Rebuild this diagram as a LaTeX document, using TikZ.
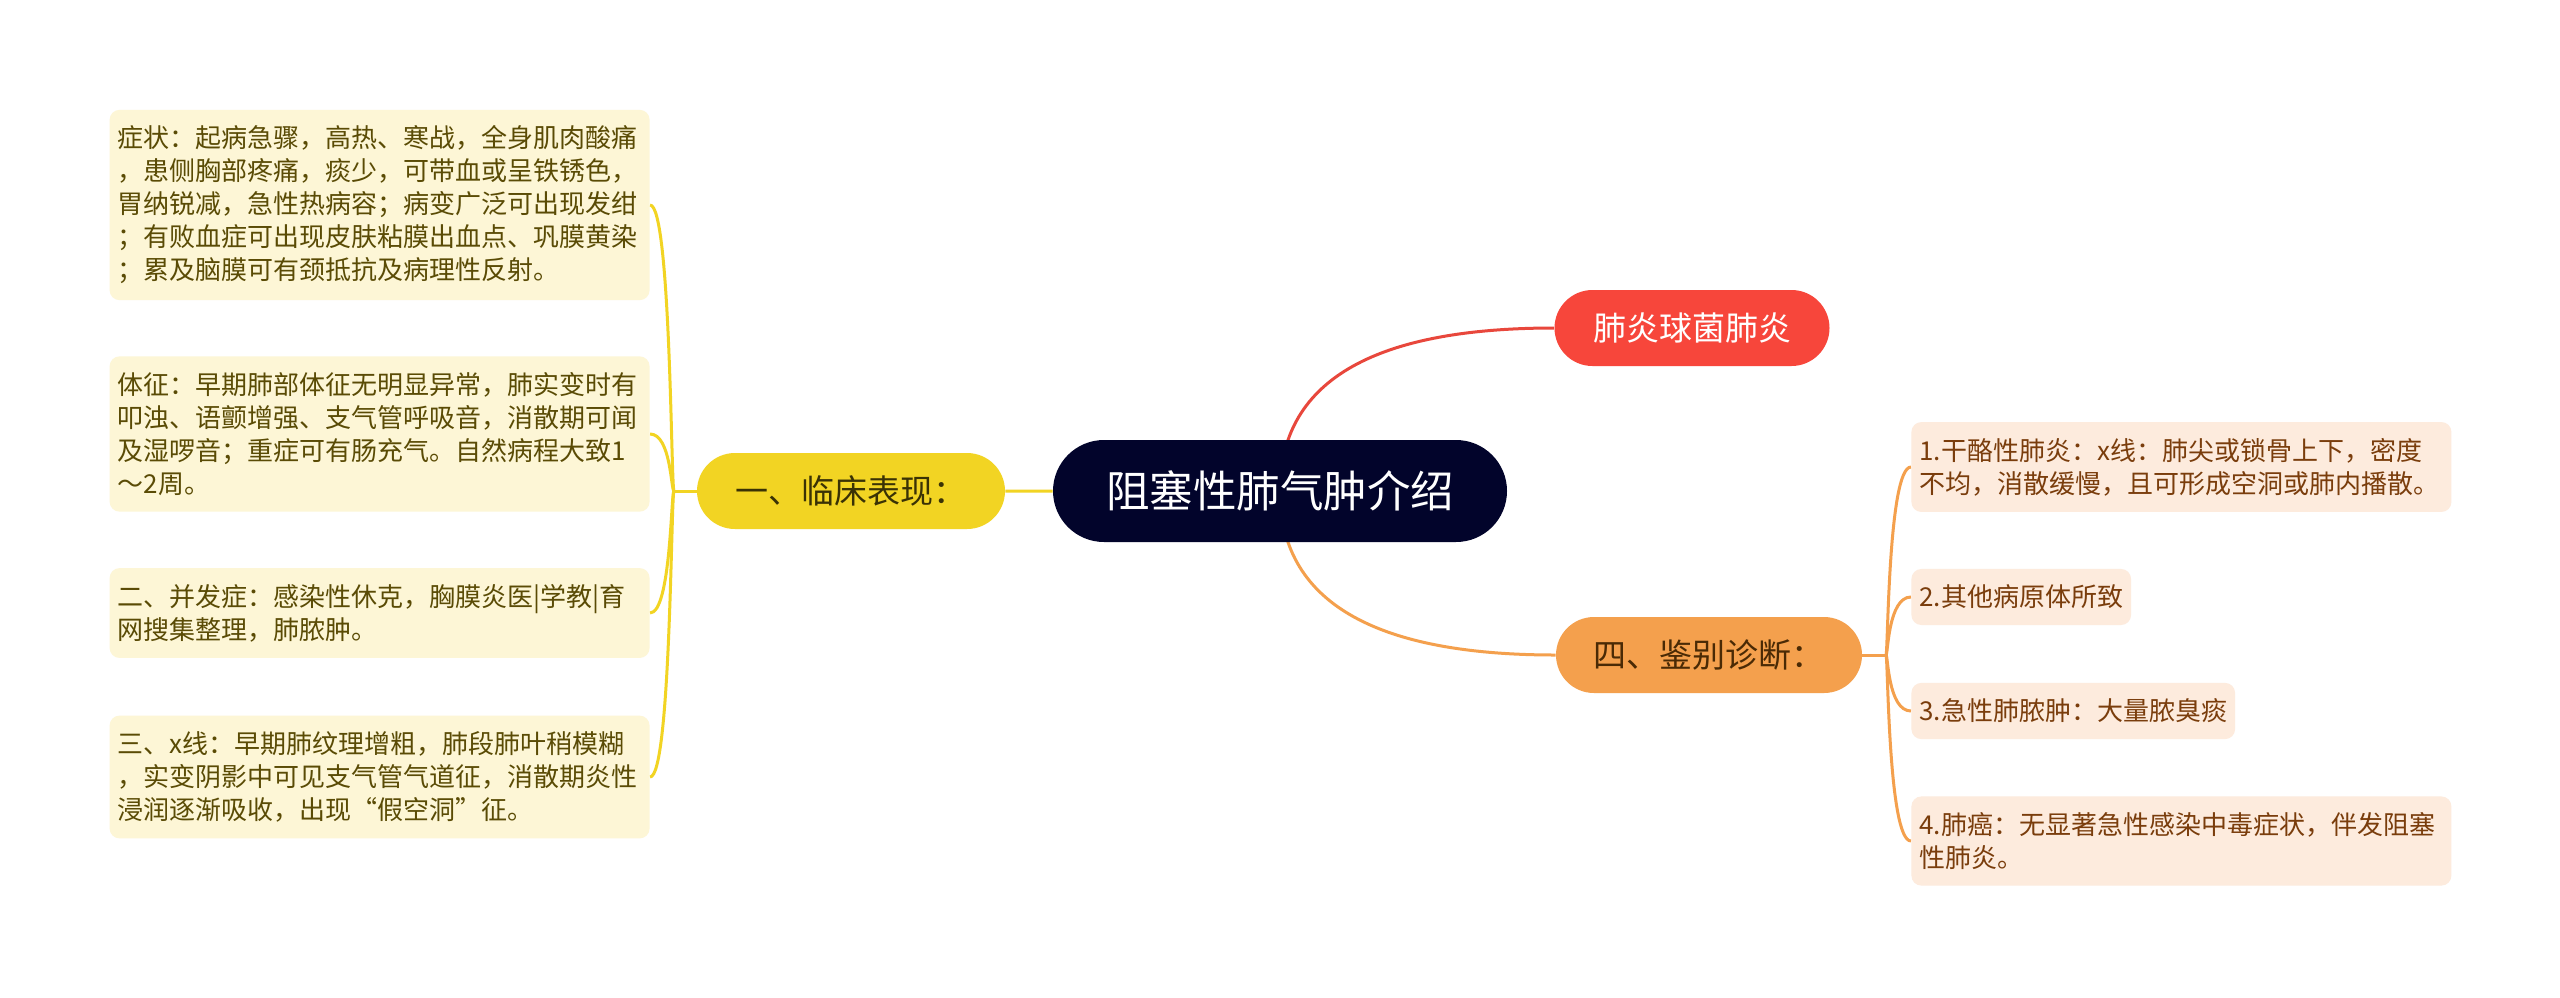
\documentclass[tikz,border=0pt]{standalone}
\usepackage{fontspec}
\setmainfont{Noto Sans CJK SC}
\usepackage{tikz}
\usetikzlibrary{backgrounds,calc,shapes.misc}
\definecolor{mmRoot}{HTML}{02042B}
\definecolor{mmRed}{HTML}{F7463B}
\definecolor{mmRedLine}{HTML}{E8473C}
\definecolor{mmYellow}{HTML}{F2D423}
\definecolor{mmYellowInk}{HTML}{3A3205}
\definecolor{mmOrange}{HTML}{F4A04D}
\definecolor{mmOrangeInk}{HTML}{4A2A05}
\definecolor{mmCream}{HTML}{FDF6D6}
\definecolor{mmCreamInk}{HTML}{5A4B05}
\definecolor{mmPeach}{HTML}{FDEBDD}
\definecolor{mmPeachInk}{HTML}{7A3D0C}
\tikzset{
  mm diagram/.style={x=0.5pt, y=-0.5pt, line cap=round, line join=round},
  mm topic/.style={rounded rectangle, inner sep=0pt, minimum height=38pt,
    font=\fontsize{16.5}{20}\selectfont},
  mm root/.style={mm topic, fill=mmRoot, text=white, minimum width=227pt,
    minimum height=51pt, font=\fontsize{21.75}{26}\selectfont},
  mm leaf/.style={rounded corners=5pt, inner xsep=4pt, inner ysep=8pt,
    align=left, font=\fontsize{13}{16.5}\selectfont},
  mm cream/.style={mm leaf, fill=mmCream, text=mmCreamInk, text width=262pt},
  mm peach/.style={mm leaf, fill=mmPeach, text=mmPeachInk},
  mm link/.style={line width=1.5pt}
}
\begin{document}
\begin{tikzpicture}[mm diagram]
\useasboundingbox (0,0) rectangle (2560,997);
% centre and main topics
\node[mm root] (root) at (1280,491) {阻塞性肺气肿介绍};
\node[mm topic, fill=mmYellow, text=mmYellowInk, minimum width=154pt] (clin) at (851,491) {一、临床表现：};
\node[mm topic, fill=mmRed, text=white, minimum width=137.5pt] (pneu) at (1692,328) {肺炎球菌肺炎};
\node[mm topic, fill=mmOrange, text=mmOrangeInk, minimum width=153pt] (diff) at (1709,655) {四、鉴别诊断：};
% left leaves
\node[mm cream, anchor=east] (c1) at (650,205) {症状：起病急骤，高热、寒战，全身肌肉酸痛\\，患侧胸部疼痛，痰少，可带血或呈铁锈色，\\胃纳锐减，急性热病容；病变广泛可出现发绀\\；有败血症可出现皮肤粘膜出血点、巩膜黄染\\；累及脑膜可有颈抵抗及病理性反射。};
\node[mm cream, anchor=east] (c2) at (650,434) {体征：早期肺部体征无明显异常，肺实变时有\\叩浊、语颤增强、支气管呼吸音，消散期可闻\\及湿啰音；重症可有肠充气。自然病程大致1\\～2周。};
\node[mm cream, anchor=east] (c3) at (650,613) {二、并发症：感染性休克，胸膜炎医|学教|育\\网搜集整理，肺脓肿。};
\node[mm cream, anchor=east] (c4) at (650,777) {三、x线：早期肺纹理增粗，肺段肺叶稍模糊\\，实变阴影中可见支气管气道征，消散期炎性\\浸润逐渐吸收，出现“假空洞”征。};
% right leaves
\node[mm peach, text width=262pt, anchor=west] (d1) at (1911,467) {1.干酪性肺炎：x线：肺尖或锁骨上下，密度\\不均，消散缓慢，且可形成空洞或肺内播散。};
\node[mm peach, anchor=west] (d2) at (1911,597) {2.其他病原体所致};
\node[mm peach, anchor=west] (d3) at (1911,711) {3.急性肺脓肿：大量脓臭痰};
\node[mm peach, text width=262pt, anchor=west] (d4) at (1911,841) {4.肺癌：无显著急性感染中毒症状，伴发阻塞\\性肺炎。};
\coordinate (cj) at (674,491);
\coordinate (dj) at (1886,655);
\begin{scope}[on background layer]
\fill[white] (0,0) rectangle (2560,997);
\draw[mm link, mmYellow] (root) -- (clin);
\draw[mm link, mmYellow] (clin.west) -- (cj);
\foreach \b in {c1,c2,c3,c4}
  \draw[mm link, mmYellow] (cj) .. controls ($(cj)+(-3,0)$) and ($(cj |- \b.east)+(-3,0)$) .. (\b.east);
\draw[mm link, mmRedLine] (root.center) .. controls ($(root.center)!0.667!(root.center |- pneu.west)$) and ($(pneu.west)!0.667!(root.center |- pneu.west)$) .. (pneu.west);
\draw[mm link, mmOrange] (root.center) .. controls ($(root.center)!0.667!(root.center |- diff.west)$) and ($(diff.west)!0.667!(root.center |- diff.west)$) .. (diff.west);
\draw[mm link, mmOrange] (diff.east) -- (dj);
\foreach \b in {d1,d2,d3,d4}
  \draw[mm link, mmOrange] (dj) .. controls ($(dj)+(2,0)$) and ($(dj |- \b.west)+(2,0)$) .. (\b.west);
\end{scope}
\end{tikzpicture}
\end{document}
